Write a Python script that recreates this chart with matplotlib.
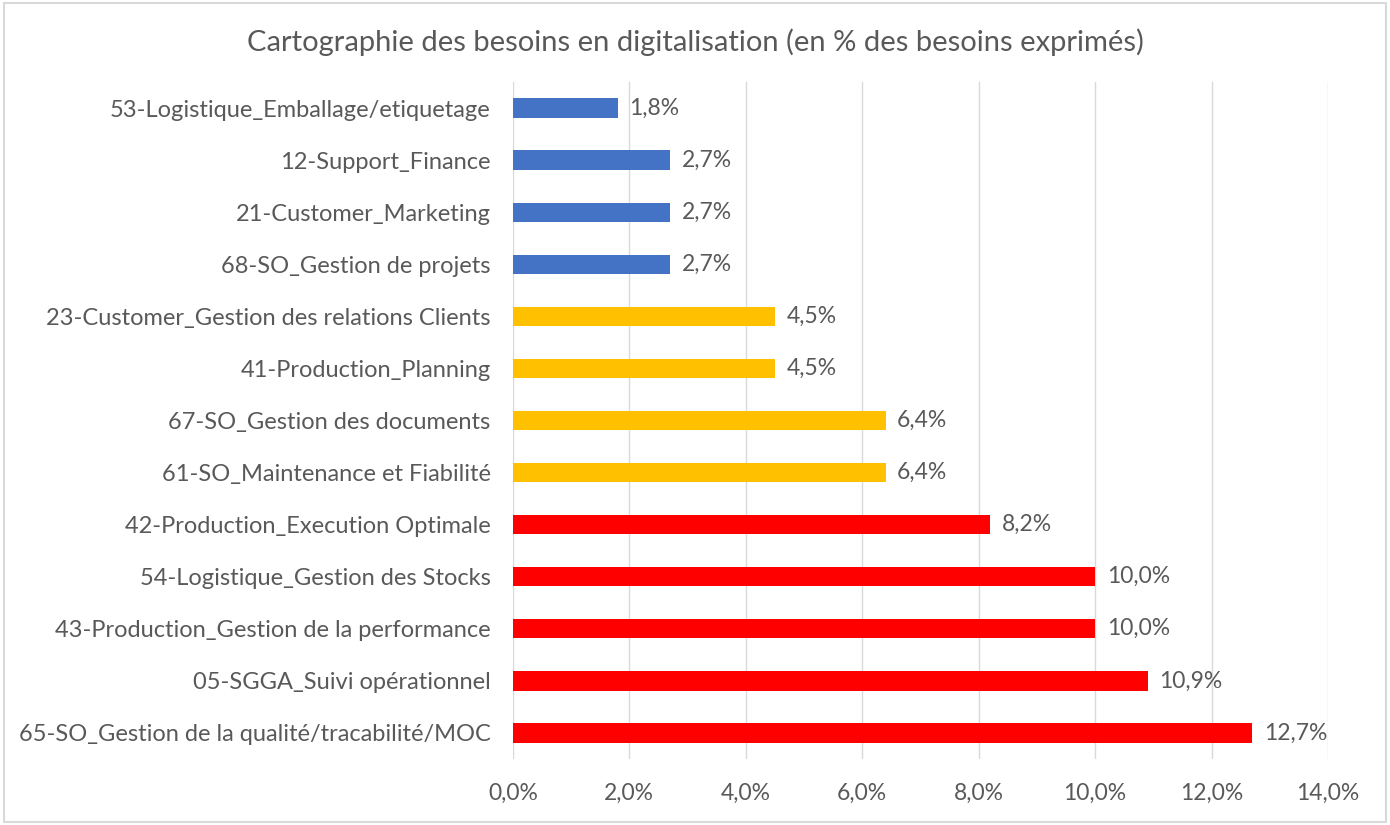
import matplotlib
matplotlib.use("Agg")
import matplotlib.pyplot as plt
from matplotlib.ticker import FuncFormatter

categories = [
    "53-Logistique_Emballage/etiquetage",
    "12-Support_Finance",
    "21-Customer_Marketing",
    "68-SO_Gestion de projets",
    "23-Customer_Gestion des relations Clients",
    "41-Production_Planning",
    "67-SO_Gestion des documents",
    "61-SO_Maintenance et Fiabilité",
    "42-Production_Execution Optimale",
    "54-Logistique_Gestion des Stocks",
    "43-Production_Gestion de la performance",
    "05-SGGA_Suivi opérationnel",
    "65-SO_Gestion de la qualité/tracabilité/MOC",
]
values = [1.8, 2.7, 2.7, 2.7, 4.5, 4.5, 6.4, 6.4, 8.2, 10.0, 10.0, 10.9, 12.7]
groups = ["low"] * 4 + ["mid"] * 4 + ["high"] * 5
group_colors = {"low": "#4472C4", "mid": "#FFC000", "high": "#FF0000"}
title = "Cartographie des besoins en digitalisation (en % des besoins exprimés)"

plt.rcParams['font.family'] = ['Lato', 'DejaVu Sans']
text_color = "#595959"

fig = plt.figure(figsize=(13.9, 8.25), dpi=100)
ax = fig.add_axes([0.369, 0.08, 0.5864, 0.8206])

n = len(categories)
ypos = list(range(n))
colors = [group_colors[g] for g in groups]
ax.barh(ypos, values, height=0.37, color=colors, zorder=3)
ax.set_ylim(n - 0.5, -0.5)
ax.set_xlim(0, 14)
ax.set_yticks(ypos)
ax.set_yticklabels(categories, fontsize=17, color=text_color)
ax.set_xticks([0, 2, 4, 6, 8, 10, 12, 14])
ax.xaxis.set_major_formatter(FuncFormatter(lambda v, p: f"{v:.1f}%".replace(".", ",")))
ax.tick_params(axis='x', labelsize=16.5, colors=text_color, length=0, pad=17)
ax.tick_params(axis='y', length=0, pad=16)
ax.grid(axis='x', color="#D9D9D9", linewidth=1, zorder=0)
for s in ax.spines.values():
    s.set_visible(False)

for y, v in zip(ypos, values):
    ax.text(v + 0.2, y, f"{v:.1f}%".replace(".", ","), va='center', ha='left',
            fontsize=16.5, color=text_color)

fig.text(0.5, 0.949, title, ha='center', va='center', fontsize=21, color=text_color)

border = plt.Rectangle((0.003, 0.004), 0.994, 0.992, transform=fig.transFigure,
                       fill=False, edgecolor="#D9D9D9", linewidth=1.5)
fig.add_artist(border)

fig.savefig("out.png", dpi=100)
